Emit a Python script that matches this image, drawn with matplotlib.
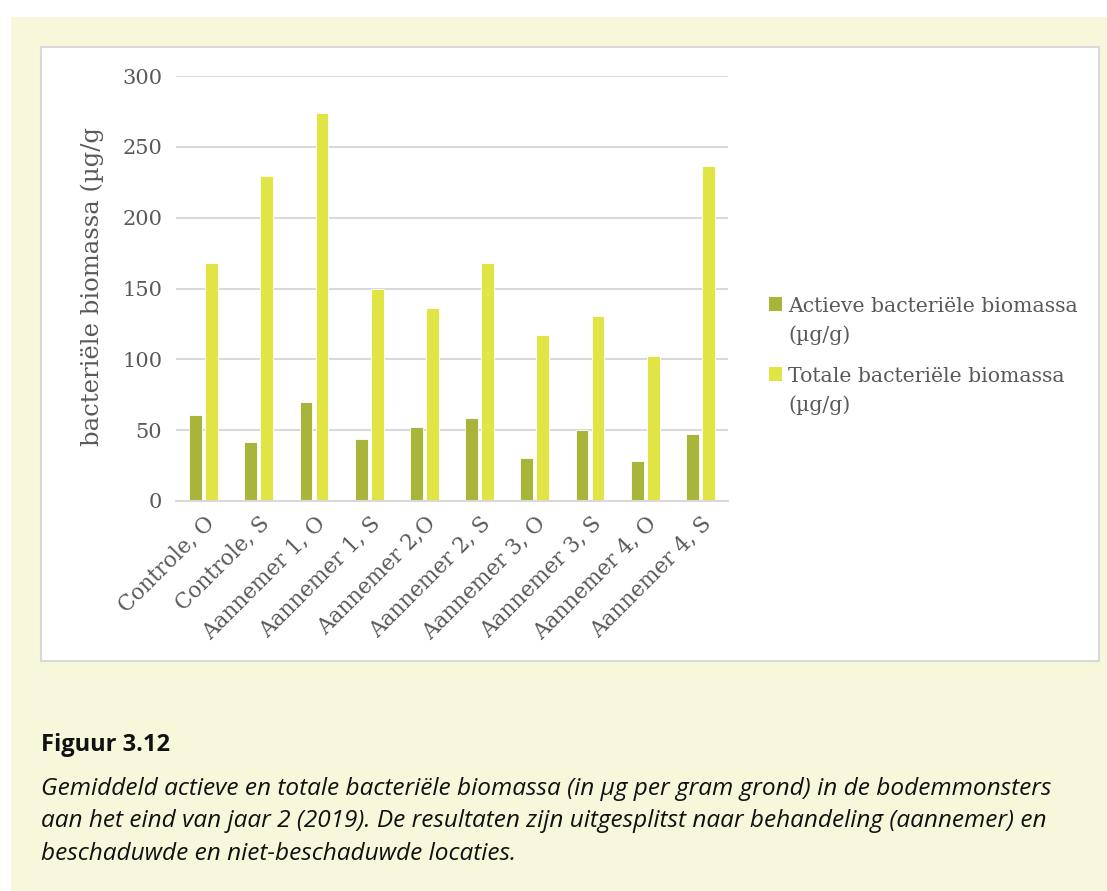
import matplotlib.pyplot as plt
from matplotlib.patches import Rectangle
from matplotlib.legend_handler import HandlerPatch, update_from_first_child
from matplotlib.container import BarContainer
import numpy as np

categories = ["Controle, O", "Controle, S", "Aannemer 1, O", "Aannemer 1, S",
              "Aannemer 2,O", "Aannemer 2, S", "Aannemer 3, O", "Aannemer 3, S",
              "Aannemer 4, O", "Aannemer 4, S"]
actief = [60.5, 42.0, 69.7, 44.1, 52.3, 58.9, 30.2, 49.9, 28.0, 47.1]
totaal = [168.1, 229.1, 273.6, 149.3, 136.1, 167.9, 117.3, 130.9, 102.2, 236.4]
yticks = [0, 50, 100, 150, 200, 250, 300]

W, H = 1107, 891
grey = "#595959"
serif = "DejaVu Serif"
leg_fs = 14.7


class FirstLineSquare(HandlerPatch):
    # legend square lined up with the first line of a two-line label
    def __init__(self, shift):
        super().__init__(update_func=update_from_first_child)
        self.shift = shift

    def create_artists(self, legend, orig_handle, xdescent, ydescent,
                       width, height, fontsize, trans):
        p = Rectangle((-xdescent, -ydescent + self.shift), width, height)
        self.update_prop(p, orig_handle, legend)
        p.set_linewidth(0)
        p.set_transform(trans)
        return [p]


fig = plt.figure(figsize=(W / 100, H / 100), dpi=100)
fig.patch.set_facecolor("white")

# beige page block and the white chart panel, kept behind the axes
fig.patches.append(Rectangle((11 / W, 0), 1, 1 - 17 / H, transform=fig.transFigure,
                             facecolor="#F7F7DC", edgecolor="none", zorder=-3))
fig.patches.append(Rectangle((41 / W, 1 - 661 / H), (1099 - 41) / W, (661 - 47) / H,
                             transform=fig.transFigure, facecolor="white",
                             edgecolor="#D9D9D9", linewidth=1.5, zorder=-2))

ax = fig.add_axes([176 / W, 1 - 501 / H, (728 - 176) / W, (501 - 76) / H])
ax.set_facecolor("none")
x = np.arange(len(categories))
w = 0.23
ax.bar(x - 0.145, actief, w, color="#A9B43A", edgecolor="white", linewidth=0.6,
       label="Actieve bacteriële biomassa\n(µg/g)", zorder=3)
ax.bar(x + 0.145, totaal, w, color="#E1E445", edgecolor="white", linewidth=0.6,
       label="Totale bacteriële biomassa\n(µg/g)", zorder=3)

ax.set_xlim(-0.5, len(categories) - 0.5)
ax.set_ylim(0, 300)
ax.set_yticks(yticks)
ax.yaxis.grid(True, color="#D9D9D9", linewidth=1.5, zorder=0)
for s in ["top", "right", "left"]:
    ax.spines[s].set_visible(False)
ax.spines["bottom"].set_color("#D9D9D9")
ax.spines["bottom"].set_linewidth(1.5)
ax.spines["bottom"].set_zorder(4)
ax.tick_params(axis="y", length=0, labelsize=15, labelcolor=grey, pad=10)
ax.tick_params(axis="x", length=0, pad=8)
ax.set_xticks(x)
ax.set_xticklabels(categories, rotation=45, ha="right", va="top",
                   rotation_mode="anchor", fontsize=15.5, color=grey, family=serif)
for lab in ax.get_yticklabels():
    lab.set_family(serif)

fig.text(92 / W, 1 - 286 / H, "bacteriële biomassa (µg/g", rotation=90,
         ha="center", va="center", fontsize=17.5, color=grey, family=serif)

hm = {BarContainer: FirstLineSquare(shift=0.85 * leg_fs)}
leg = ax.legend(loc="upper left", bbox_to_anchor=(769 / W, 1 - 297 / H),
                bbox_transform=fig.transFigure, frameon=False,
                borderpad=0, borderaxespad=0, handler_map=hm,
                handlelength=0.64, handleheight=0.64, handletextpad=0.3,
                labelspacing=1.05, prop={"family": serif, "size": leg_fs})
for t in leg.get_texts():
    t.set_color(grey)
    t.set_linespacing(1.62)

fig.text(41 / W, 1 - 745 / H, "Figuur 3.12", ha="left", va="center",
         fontsize=17, fontweight="bold", family="Open Sans", color="#111111")
caption = ("Gemiddeld actieve en totale bacteriële biomassa (in µg per gram grond) in de bodemmonsters\n"
           "aan het eind van jaar 2 (2019). De resultaten zijn uitgesplitst naar behandeling (aannemer) en\n"
           "beschaduwde en niet-beschaduwde locaties.")
fig.text(41 / W, 1 - 777 / H, caption, ha="left", va="top", fontsize=17.6,
         style="italic", family="Open Sans", color="#111111", linespacing=1.47)

fig.savefig("out.png", dpi=100)
